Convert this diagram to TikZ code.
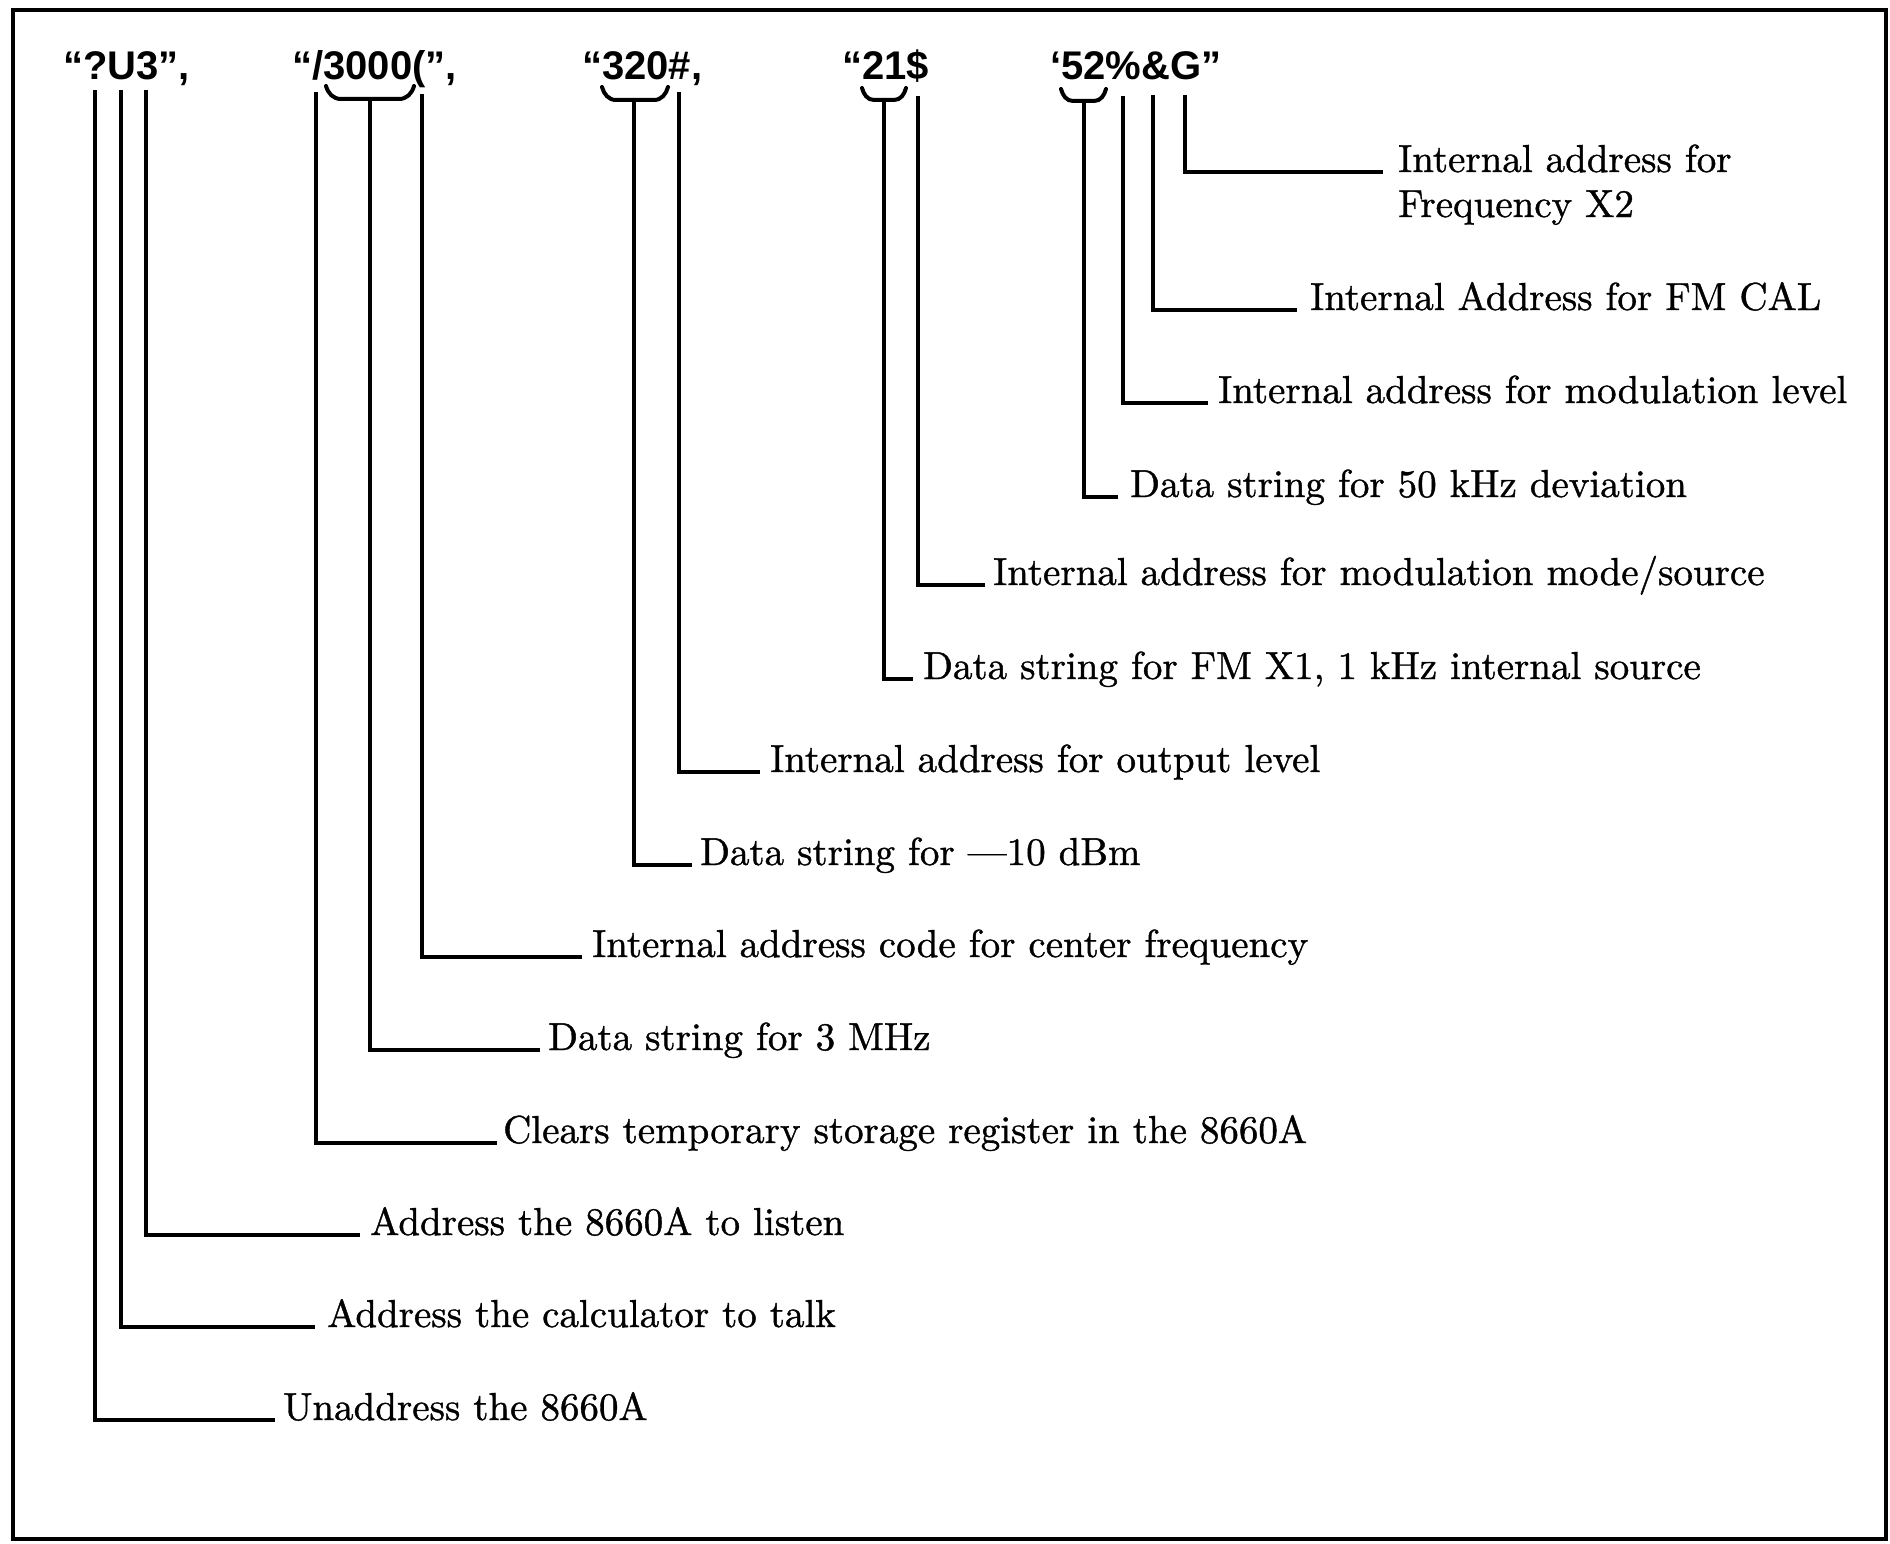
\documentclass[tikz,border=0pt]{standalone}
\usepackage{fontspec}
\usetikzlibrary{calc}
\newfontfamily\codefont{Liberation Sans}
\newfontfamily\labfont{lmroman10-regular}[Extension=.otf, FakeBold=1]
\begin{document}
\begin{tikzpicture}[x=1pt,y=-1pt]
\tikzset{
  lab/.style={anchor=base west, inner sep=0pt, font=\labfont\fontsize{39}{45}\selectfont},
  code/.style={anchor=base west, inner sep=0pt, font=\codefont\bfseries\fontsize{40}{40}\selectfont},
  conn/.style={line width=3.6pt, line cap=butt, line join=miter},
  brace/.style={line width=4pt, line cap=round},
  frame/.style={line width=4pt}
}
\useasboundingbox (0,0) rectangle (1890,1544);
\draw[frame] (13,10) rectangle (1886,1539);

% code strings
\node[code] (c1) at (63,80) {“?U3”,};
\node[code] (c2) at (292,80) {“/3000(”,};
\node[code] (c3) at (582,80) {“320\#,};
\node[code] (c4) at (842,80) {“21\$};
\node[code] (c5) at (1050,80) {‘52\%\&G”};

% labels
\node[lab] (l1) at (283,1420) {Unaddress the 8660A};
\node[lab] (l2) at (327,1327) {Address the calculator to talk};
\node[lab] (l3) at (370,1235) {Address the 8660A to listen};
\node[lab] (l4) at (503,1143) {Clears temporary storage register in the 8660A};
\node[lab] (l5) at (548,1050) {Data string for 3 MHz};
\node[lab] (l6) at (592,957) {Internal address code for center frequency};
\node[lab] (l7) at (700,865) {Data string for —10 dBm};
\node[lab] (l8) at (770,772) {Internal address for output level};
\node[lab] (l9) at (923,679) {Data string for FM X1, 1 kHz internal source};
\node[lab] (l10) at (993,585) {Internal address for modulation mode/source};
\node[lab] (l11) at (1130,497) {Data string for 50 kHz deviation};
\node[lab] (l12) at (1218,403) {Internal address for modulation level};
\node[lab] (l13) at (1310,310) {Internal Address for FM CAL};
\node[lab] (l14) at (1398,172) {Internal address for};
\node[lab] (l14b) at ($(l14.base west)+(0,45)$) {Frequency X2};

% top ends of single-character leads
\coordinate (t1) at (95,90);
\coordinate (t2) at (121,90);
\coordinate (t3) at (146,90);
\coordinate (t4) at (316,92);
\coordinate (t6) at (422,94);
\coordinate (t8) at (679,92);
\coordinate (t10) at (918,96);
\coordinate (t12) at (1123,96);
\coordinate (t13) at (1153,95);
\coordinate (t14) at (1185,95);

% braces (group leads)
\draw[brace] (326,86) to[out=-75,in=180] (341,99) -- (399,99) to[out=0,in=-105] (414,86);
\coordinate (b5) at (370,99);
\draw[brace] (602,87) to[out=-75,in=180] (616,100) -- (654,100) to[out=0,in=-105] (668,87);
\coordinate (b7) at (634,100);
\draw[brace] (862,88) to[out=-75,in=180] (874,100) -- (894,100) to[out=0,in=-105] (906,88);
\coordinate (b9) at (884,100);
\draw[brace] (1061,89) to[out=-75,in=180] (1073,101) -- (1094,101) to[out=0,in=-105] (1106,89);
\coordinate (b11) at (1084,101);

% connectors
\draw[conn] (t1) |- ([xshift=-8pt]l1.base west);
\draw[conn] (t2) |- ([xshift=-12pt]l2.base west);
\draw[conn] (t3) |- ([xshift=-10pt]l3.base west);
\draw[conn] (t4) |- ([xshift=-6pt]l4.base west);
\draw[conn] (b5) |- ([xshift=-8pt]l5.base west);
\draw[conn] (t6) |- ([xshift=-10pt]l6.base west);
\draw[conn] (b7) |- ([xshift=-8pt]l7.base west);
\draw[conn] (t8) |- ([xshift=-10pt]l8.base west);
\draw[conn] (b9) |- ([xshift=-10pt]l9.base west);
\draw[conn] (t10) |- ([xshift=-8pt]l10.base west);
\draw[conn] (b11) |- ([xshift=-12pt]l11.base west);
\draw[conn] (t12) |- ([xshift=-10pt]l12.base west);
\draw[conn] (t13) |- ([xshift=-13pt]l13.base west);
\draw[conn] (t14) |- ([xshift=-15pt]l14.base west);
\end{tikzpicture}
\end{document}
